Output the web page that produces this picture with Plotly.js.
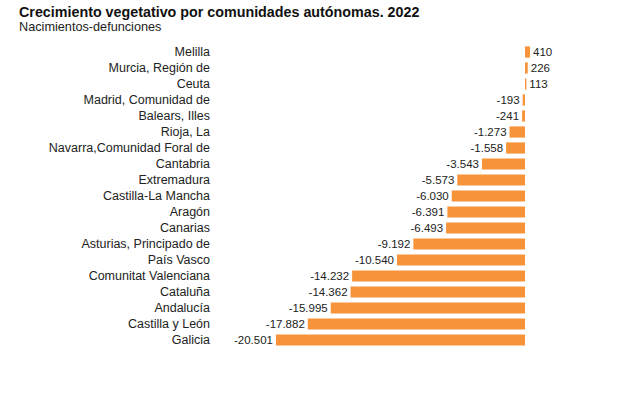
<!DOCTYPE html>
<html>
<head>
<meta charset="utf-8">
<script src="https://cdn.plot.ly/plotly-3.0.1.min.js"></script>
<style>html,body{margin:0;padding:0;background:#fff;}#chart{width:640px;height:393px;}</style>
</head>
<body>
<div id="chart"></div>
<script>
const categories = [
  "Melilla", "Murcia, Región de", "Ceuta", "Madrid, Comunidad de", "Balears, Illes",
  "Rioja, La", "Navarra,Comunidad Foral de", "Cantabria", "Extremadura", "Castilla-La Mancha",
  "Aragón", "Canarias", "Asturias, Principado de", "País Vasco", "Comunitat Valenciana",
  "Cataluña", "Andalucía", "Castilla y León", "Galicia"
];
const values = [
  410, 226, 113, -193, -241,
  -1273, -1558, -3543, -5573, -6030,
  -6391, -6493, -9192, -10540, -14232,
  -14362, -15995, -17882, -20501
];
const titleText = "Crecimiento vegetativo por comunidades autónomas. 2022";
const subtitleText = "Nacimientos-defunciones";

const W = 640, H = 393;
const margin = {l: 215, r: 65, t: 44, b: 45};
const xRange = [-25523, 4117];
const n = categories.length;
const zeroFrac = (0 - xRange[0]) / (xRange[1] - xRange[0]);
const boundaries = [];
for (let i = 0; i <= n; i++) boundaries.push(i - 0.5);

const trace = {
  type: 'bar',
  orientation: 'h',
  x: values,
  y: categories,
  marker: {color: '#F7943A'},
  text: values,
  texttemplate: '%{x:,}',
  textposition: 'outside',
  constraintext: 'none',
  cliponaxis: false,
  textfont: {family: 'Liberation Sans, Arial, sans-serif', size: 11.5, color: '#222'},
  hoverinfo: 'skip'
};

const layout = {
  width: W, height: H,
  margin: margin,
  paper_bgcolor: '#fff',
  plot_bgcolor: '#fff',
  separators: ',.',
  bargap: 0.3,
  showlegend: false,
  font: {family: 'Liberation Sans, Arial, sans-serif', color: '#222', size: 12},
  title: {
    text: '<b>' + titleText + '</b>',
    font: {size: 14.3, color: '#111'},
    xref: 'container', yref: 'container',
    x: 19 / W, xanchor: 'left',
    y: 1 - 12 / H, yanchor: 'middle'
  },
  annotations: [{
    text: subtitleText,
    xref: 'paper', yref: 'paper',
    x: (17 - margin.l) / (W - margin.l - margin.r), xanchor: 'left',
    y: 1 + (margin.t - 27) / (H - margin.t - margin.b), yanchor: 'middle',
    showarrow: false,
    font: {size: 12.7, color: '#222'}
  }],
  xaxis: {
    range: xRange,
    showgrid: false, zeroline: false, showticklabels: false, ticks: '', showline: false,
    fixedrange: true
  },
  yaxis: {
    type: 'category',
    categoryorder: 'array', categoryarray: categories,
    autorange: 'reversed',
    showgrid: false, zeroline: false, showline: false, ticks: '',
    ticklabelstandoff: 4,
    tickfont: {size: 12.5, color: '#222'},
    fixedrange: true
  },
  yaxis2: {
    overlaying: 'y',
    anchor: 'free',
    position: zeroFrac,
    side: 'right',
    range: [n - 0.5, -0.5],
    tickmode: 'array',
    tickvals: boundaries,
    showticklabels: false,
    ticks: 'outside', ticklen: 3, tickcolor: '#aaa',
    showline: true, linecolor: '#aaa', linewidth: 1,
    showgrid: false, zeroline: false,
    fixedrange: true
  }
};

Plotly.newPlot('chart', [trace], layout, {staticPlot: true, displayModeBar: false});
</script>
</body>
</html>
